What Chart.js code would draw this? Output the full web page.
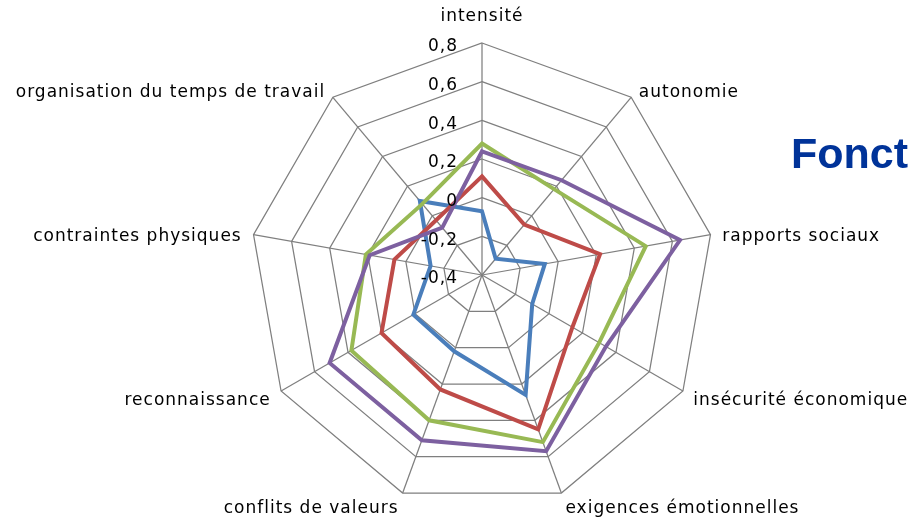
<!DOCTYPE html>
<html lang="fr">
<head>
<meta charset="utf-8">
<title>Radar</title>
<script src="https://cdn.jsdelivr.net/npm/chart.js@4.4.1/dist/chart.umd.min.js"></script>
<style>
  html, body { margin: 0; padding: 0; background: #fff; overflow: hidden; }
  #wrap { position: relative; width: 917px; height: 521px; }
  #titre {
    position: absolute; left: 791px; top: 132px;
    font: bold 43px "Liberation Sans", Arial, sans-serif; line-height: 43px;
    color: #003399; white-space: nowrap;
  }
</style>
</head>
<body>
<div id="wrap">
  <canvas id="myChart" width="917" height="521"></canvas>
  <div id="titre">Fonct</div>
</div>
<script>
'use strict';

let labels = [
  'intensité', 'autonomie', 'rapports sociaux', 'insécurité économique',
  'exigences émotionnelles', 'conflits de valeurs', 'reconnaissance',
  'contraintes physiques', 'organisation du temps de travail'];

let serieBleue = [-0.07, -0.29, -0.07, -0.10, 0.26, 0.02, 0.01, -0.13, 0.10];
let serieRouge = [0.11, -0.06, 0.22, 0.14, 0.45, 0.23, 0.20, 0.06, -0.03];
let serieVerte = [0.28, 0.18, 0.46, 0.30, 0.52, 0.40, 0.38, 0.21, 0.08];
let serieViolette = [0.24, 0.24, 0.64, 0.34, 0.57, 0.51, 0.51, 0.19, -0.08];

let tickValues = [-0.4, -0.2, 0, 0.2, 0.4, 0.6, 0.8];
let tickLabels = ['-0,4', '-0,2', '0', '0,2', '0,4', '0,6', '0,8'];

let gris = '#7f7f7f';
let police = '17px "DejaVu Sans", sans-serif';

// textes des axes et graduations, places avec l'echelle du radar
const textPlugin = {
  id: 'textPlugin',
  afterDraw(chart) {
    let scale = chart.scales.r;
    let ctx = chart.ctx;
    ctx.save();
    ctx.font = police;
    ctx.letterSpacing = '1px';
    ctx.fillStyle = '#000';
    ctx.textBaseline = 'middle';

    ctx.textAlign = 'right';
    for (let i = 0; i < tickValues.length; i++) {
      let y = scale.yCenter - scale.getDistanceFromCenterForValue(tickValues[i]);
      ctx.fillText(tickLabels[i], scale.xCenter - 24, y + 4);
    }

    for (let i = 0; i < labels.length; i++) {
      let p = scale.getPointPosition(i, scale.drawingArea + 12);
      let y = p.y + 4;
      if (Math.abs(p.x - scale.xCenter) < 1) {
        ctx.textAlign = 'center';
        y = p.y - 14;
      } else if (p.x > scale.xCenter) {
        ctx.textAlign = 'left';
      } else {
        ctx.textAlign = 'right';
      }
      ctx.fillText(labels[i], p.x, y);
    }
    ctx.restore();
  }
};

function serie(name, data, color, order) {
  return {
    label: name,
    data: data,
    borderColor: color,
    backgroundColor: color,
    borderWidth: 4,
    pointRadius: 0,
    pointHoverRadius: 0,
    fill: false,
    order: order
  };
}

let ctx = document.getElementById('myChart').getContext('2d');

let myChart = new Chart(ctx, {
  type: 'radar',
  data: {
    labels: labels,
    datasets: [
      serie('Série1', serieBleue, '#4A7EBB', 4),
      serie('Série2', serieRouge, '#BE4B48', 3),
      serie('Série3', serieVerte, '#98B954', 2),
      serie('Série4', serieViolette, '#7D60A0', 1)
    ]
  },
  options: {
    responsive: false,
    animation: false,
    layout: {
      padding: { left: 250, right: 203, top: 43, bottom: 14 }
    },
    plugins: {
      legend: { display: false },
      tooltip: { enabled: false }
    },
    elements: {
      line: { tension: 0 }
    },
    scales: {
      r: {
        min: -0.4,
        max: 0.8,
        ticks: { stepSize: 0.2, display: false },
        grid: { color: gris, lineWidth: 1.25 },
        angleLines: { color: gris, lineWidth: 1.25 },
        pointLabels: { display: false }
      }
    }
  },
  plugins: [textPlugin]
});
</script>
</body>
</html>
